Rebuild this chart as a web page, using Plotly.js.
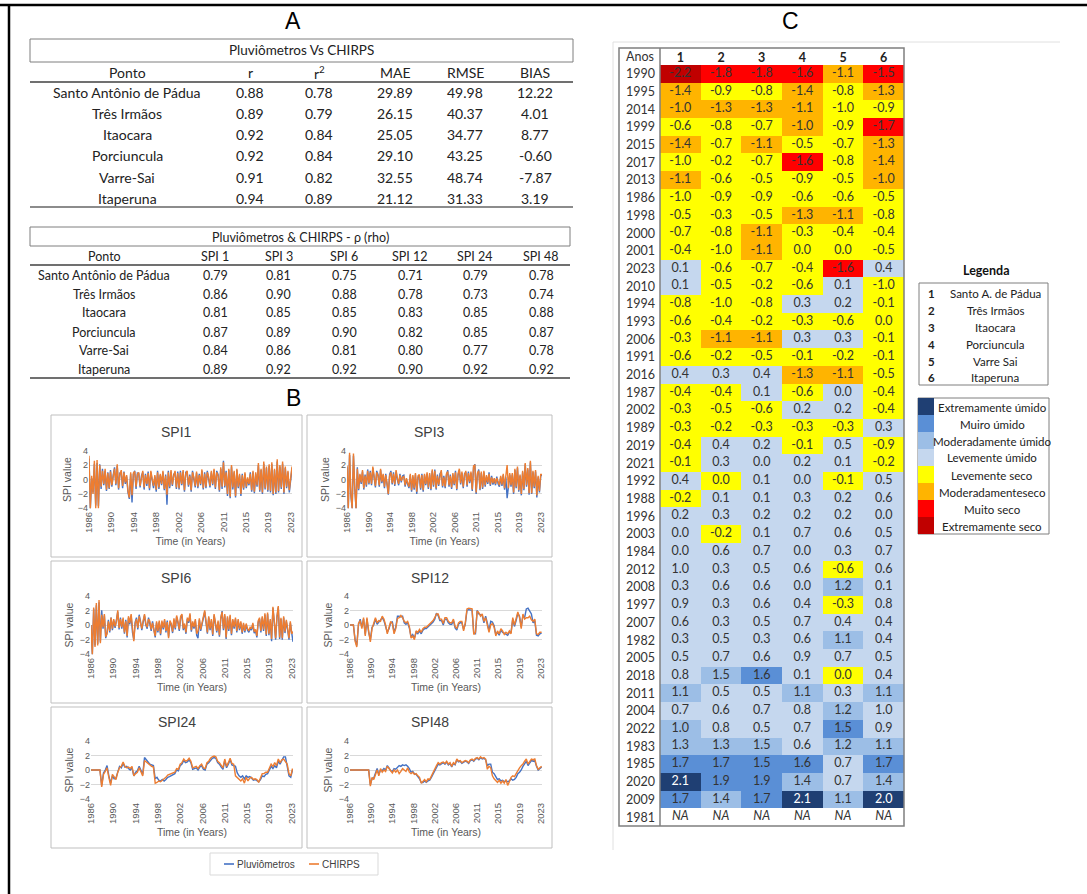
<!DOCTYPE html>
<html><head><meta charset="utf-8">
<script src="https://cdn.plot.ly/plotly-3.0.1.min.js"></script>
<style>html,body{margin:0;padding:0;background:#fff}#c{width:1087px;height:894px}</style>
</head><body><div id="c"></div>
<script>
// ---------------- DATA ----------------
const pontos = ['Santo Antônio de Pádua','Três Irmãos','Itaocara','Porciuncula','Varre-Sai','Itaperuna'];
const rVals    = [0.88,0.89,0.92,0.92,0.91,0.94];
const r2Vals   = [0.78,0.79,0.84,0.84,0.82,0.89];
const maeVals  = [29.89,26.15,25.05,29.10,32.55,21.12];
const rmseVals = [49.98,40.37,34.77,43.25,48.74,31.33];
const biasVals = [12.22,4.01,8.77,-0.60,-7.87,3.19];
const t1Headers = ['Ponto','r','r<sup>2</sup>','MAE','RMSE','BIAS'];

const t2Headers = ['Ponto','SPI 1','SPI 3','SPI 6','SPI 12','SPI 24','SPI 48'];
const rhoSpi1  = [0.79,0.86,0.81,0.87,0.84,0.89];
const rhoSpi3  = [0.81,0.90,0.85,0.89,0.86,0.92];
const rhoSpi6  = [0.75,0.88,0.85,0.90,0.81,0.92];
const rhoSpi12 = [0.71,0.78,0.83,0.82,0.80,0.90];
const rhoSpi24 = [0.79,0.73,0.85,0.85,0.77,0.92];
const rhoSpi48 = [0.78,0.74,0.88,0.87,0.78,0.92];

const tickMonths = [0,50,100,150,200,250,300,350,400,450];
const tickYears  = ['1986','1990','1994','1998','2002','2006','2011','2015','2019','2023'];

// SPI1 (quarterly, 1986 ->)
const spi1Chirps = [
3.3,-4.0,0.5,-2.0, 2.6,-4.0,2.7,-4.0, 2.0,-1.0,1.2,-0.6, 1.5,-1.4,0.9,-1.2, 1.1,-0.8,0.4,1.5,
-0.6,2.1,-1.2,0.7, 1.3,-0.9,1.0,-0.4, 0.6,-1.6,-2.5,1.0, -2.2,0.9,1.1,-1.0, 0.7,1.0,-0.9,0.4,
1.2,-1.1,0.6,-0.6, 0.9,-1.2,1.2,0.1, -0.9,0.6,-1.4,1.0, -1.1,0.8,-0.6,1.2, -1.3,0.5,-2.1,1.0,
-1.0,1.3,-0.7,0.5, 1.2,-1.1,0.9,-1.2, 1.0,-0.6,1.3,-1.5, 0.8,1.2,-0.8,0.5, -1.5,1.0,0.3,-0.9,
1.1,-1.0,0.6,-0.6, 1.4,-1.2,0.8,-1.0, 1.0,0.4,-0.9,1.2, -0.6,1.5,-1.1,1.0, 0.5,-1.5,1.7,-1.0,
2.4,-0.9,1.0,-2.0, 1.5,-2.4,2.0,-1.1, 1.2,-2.3,1.5,-1.0, 0.8,-2.0,0.6,-1.2, 1.0,-1.0,0.3,-0.6,
0.8,-1.5,1.2,-1.7, 1.0,-0.8,2.3,-1.5, 1.5,-1.8,2.5,-1.2, 1.8,-1.5,2.1,-1.6, 2.4,-2.0,1.5,-1.8,
2.8,-1.6,2.0,-1.1, 2.5,-1.8,1.8,-1.0, 1.2,-1.5,0.4,1.8];
const spi1Pluv = [
2.9,-4.0,0.2,-1.8, 2.2,-3.6,2.3,-3.7, 2.1,-1.3,1.5,-0.8, 1.2,-1.6,1.0,-1.3, 1.3,-1.0,0.6,1.7,
-0.8,1.9,-1.4,0.9, 1.0,-1.2,1.1,-0.6, 0.4,-1.8,-2.7,0.8, -3.2,0.7,1.2,-1.3, 0.9,0.8,-1.1,0.5,
1.0,-1.4,0.8,-0.9, 1.1,-1.5,1.0,0.0, -1.2,0.4,-1.7,1.2, -1.3,0.6,-0.8,1.0, -1.5,0.7,-3.5,1.2,
-1.2,1.1,-0.9,0.7, 1.0,-1.3,1.1,-1.4, 1.2,-0.8,1.1,-1.7, 1.0,1.0,-1.0,0.7, -1.7,1.2,0.1,-1.1,
0.9,-1.2,0.8,-0.8, 1.2,-1.4,1.0,-1.2, 1.2,0.2,-1.1,1.0, -0.8,1.3,-1.3,1.2, 0.7,-1.7,1.5,-1.3,
2.6,-1.1,1.2,-2.3, 1.3,-2.6,1.8,-1.4, 1.0,-2.5,1.3,-1.2, 0.6,-2.3,0.8,-1.4, 0.8,-1.2,0.1,-0.8,
1.0,-1.7,1.0,-1.9, 0.8,-1.0,2.0,-1.7, 1.3,-2.0,2.2,-1.4, 1.6,-1.7,1.9,-1.8, 2.1,-2.2,1.3,-2.0,
2.5,-1.8,1.8,-1.3, 2.2,-2.0,1.6,-1.2, 1.0,-1.8,0.2,1.6];

// SPI3 (quarterly)
const spi3Chirps = [
1.9,-4.0,3.7,-2.0, -4.0,3.6,-1.0,-4.0, 1.5,-1.3,0.8,-0.4, 1.3,-1.2,0.5,-0.8, 1.2,-0.5,1.0,-0.6,
1.8,0.2,-0.9,1.0, 0.5,-0.8,1.5,-0.3, 0.8,-1.0,0.6,-0.5, -2.0,0.5,1.0,-0.5, 0.8,-0.7,1.3,0.2,
-0.6,0.6,-0.2,0.3, 0.4,-0.8,0.2,-0.5, -1.0,0.8,-1.5,0.6, -1.2,0.9,-1.7,0.5, 0.7,-1.2,0.6,-1.5,
0.8,-0.6,1.0,-1.1, 0.9,-1.3,1.4,-0.8, 1.2,-1.2,0.5,-0.7, 0.6,1.3,-0.9,0.3, -1.0,0.8,1.1,-0.8,
0.5,-1.1,0.9,-0.6, 1.0,-1.3,0.8,1.5, -0.5,1.1,-1.0,0.6, 1.2,-0.8,0.9,-0.3, 1.1,-1.4,1.9,2.0,
-1.8,0.9,1.2,-1.3, 1.1,-1.1,1.2,-0.8, 0.6,-0.4,0.8,-0.7, 0.3,-0.5,0.2,-0.6, 0.2,-0.4,-0.8,0.5,
-0.7,0.8,-1.2,0.5, 2.0,-1.2,0.9,-0.8, 0.9,-1.8,1.5,-1.0, 1.8,-1.5,0.7,-2.0, 1.2,-1.3,2.3,-0.8,
1.6,-1.9,2.6,-1.9, 1.2,-1.0,1.3,-2.2, 0.5,-1.6,0.7,0.7];
const spi3Pluv = [
1.7,-4.0,3.4,-2.2, -4.0,3.3,-1.2,-4.0, 1.7,-1.5,0.6,-0.6, 1.1,-1.4,0.7,-1.0, 1.4,-0.7,1.2,-0.8,
1.6,0.0,-1.1,1.2, 0.7,-1.0,1.3,-0.5, 0.6,-1.2,0.8,-0.7, -2.1,0.7,1.2,-0.7, 1.0,-0.9,1.1,0.0,
-0.8,0.8,-0.4,0.5, 0.6,-1.0,0.0,-0.7, -1.2,0.6,-1.7,0.4, -1.4,0.7,-2.0,0.3, 0.5,-1.4,0.8,-1.7,
0.6,-0.8,0.8,-1.3, 0.7,-1.5,1.2,-1.0, 1.4,-1.4,0.7,-0.9, 0.8,1.1,-1.1,0.5, -1.2,0.6,1.3,-1.0,
0.7,-1.3,0.7,-0.8, 1.2,-1.5,0.6,1.3, -0.7,0.9,-1.2,0.8, 1.0,-1.0,1.1,-0.5, 0.9,-1.6,1.7,2.1,
-2.0,0.7,1.4,-1.5, 0.9,-1.3,1.0,-1.0, 0.4,-0.6,1.0,-0.9, 0.5,-0.7,0.0,-0.8, 0.4,-0.6,-1.0,0.3,
-0.9,0.6,-1.4,0.3, -2.6,-1.0,0.7,-1.0, 0.7,-2.0,1.3,-1.2, 1.6,-1.7,0.5,-2.2, 1.0,-1.5,2.1,-1.0,
1.4,-2.1,2.4,-2.0, 1.0,-1.2,1.1,-2.5, 0.3,-1.8,0.5,0.6];

// SPI6 (quarterly)
const spi6Chirps = [
0.0,-4.0,2.4,-3.0, 3.0,-2.8,3.4,-2.5, 1.4,-0.3,1.5,-1.6, -1.2,0.5,-0.8,1.0, -0.5,0.8,-0.2,0.5,
2.0,-0.4,0.8,-0.3, 1.0,-1.0,0.5,-1.5, 1.2,0.3,1.5,-0.8, -2.2,0.2,0.8,-0.4, 1.2,0.3,-0.5,0.6,
1.5,0.2,-0.3,0.8, 0.5,-0.6,0.3,-0.7, -1.5,0.5,-0.8,0.6, -1.2,0.6,-0.4,0.8, -0.8,0.4,-1.8,0.6,
0.2,-0.9,0.9,-0.4, 1.3,0.5,-0.6,1.2, 1.5,-0.5,0.2,-1.0, 1.0,0.5,1.6,-0.7, 0.5,-0.3,0.8,-1.2,
-0.8,0.9,-0.6,0.3, 1.0,2.0,0.5,-1.0, 1.2,-0.5,0.8,-1.3, 1.5,0.5,-0.8,0.6, -1.4,1.0,1.8,-0.5,
1.5,-1.7,1.2,-0.6, 1.4,-1.2,0.8,-0.3, 1.0,-0.8,0.8,-0.5, 0.5,-1.0,0.3,-0.8, 0.2,-0.5,-0.8,-0.3,
-0.5,0.3,-0.9,-0.6, -1.5,0.6,1.0,-0.8, 1.2,-0.6,1.6,-1.3, 1.7,-1.2,0.8,-1.9, 2.5,0.5,-1.8,1.2,
2.6,-1.7,1.0,-1.8, 1.2,-0.9,0.7,-0.5, -1.8,0.5,-1.2,-0.9];
const spi6Pluv = [
0.0,-4.0,2.2,-2.8, 2.7,-2.6,3.1,-2.3, 2.0,-0.5,1.3,-1.8, -1.0,0.7,-1.0,1.0, -0.7,0.6,-0.4,0.7,
1.8,-0.6,1.0,-0.5, 0.8,-1.2,0.7,-1.7, 1.0,0.1,1.3,-1.0, -2.0,0.4,1.0,-0.6, 1.4,0.5,-0.7,0.4,
1.3,0.0,-0.5,1.0, 0.3,-0.8,0.5,-0.9, -1.7,0.3,-1.0,0.4, -1.4,0.4,-0.6,0.6, -1.0,0.6,-1.6,0.4,
0.0,-1.1,0.7,-0.6, 1.1,0.3,-0.8,1.0, 1.3,-0.7,0.0,-1.2, 0.8,0.3,1.4,-0.9, 0.3,-0.5,0.6,-1.4,
-1.8,0.7,-0.8,0.1, 0.8,1.8,0.3,-1.2, 1.0,-0.7,0.6,-1.5, 1.3,0.3,-1.0,0.4, -1.6,0.8,1.9,-0.7,
1.3,-1.9,1.0,-0.8, 1.2,-1.4,0.6,-0.5, 0.8,-1.0,0.6,-0.7, 0.3,-1.2,0.1,-1.0, 0.0,-0.7,-1.0,-0.5,
-0.7,0.1,-1.1,-0.8, -1.7,0.4,0.8,-1.0, 1.0,-0.8,1.4,-1.5, 1.5,-1.4,0.6,-2.2, 2.3,0.3,-2.0,1.0,
2.4,-1.9,0.8,-2.0, 1.0,-1.1,0.5,-0.7, -2.0,0.3,-1.4,-2.3];

// SPI12 (every 4 months)
const spi12Chirps = [
0,0,0, -2.2,-3.0,0.2, 0.6,-0.5,1.0, -1.5,1.0,-0.8, -2.3,-0.5,0.2, 1.0,0.3,0.6, 0.5,1.2,0.8,
0.0,-1.2,-0.3, 0.5,0.2,-1.2, -0.5,0.9,1.0, 1.3,1.0,0.5, 0.3,0.5,-0.2, -1.8,-1.5,-2.0,
-0.8,-1.0,-0.6, -1.0,-0.5,-0.3, -0.3,-0.1,0.2, 0.3,0.6,1.0, 1.5,1.5,0.8, 0.8,0.2,1.0,
1.0,0.5,0.3, 0.3,0.8,-0.2, -0.5,0.3,0.5, 0.5,-0.8,0.3, 2.2,2.3,2.2, 2.2,-1.3,-1.0,
1.9,1.7,1.2, 1.5,0.5,1.0, 0.0,-1.0,0.0, 0.2,-0.3,-1.5, -0.8,-1.2,-0.5, -0.8,-1.3,-1.0,
-1.2,-0.8,-1.2, 1.0,0.0,0.8, 1.8,1.0,-0.5, 1.5,0.8,1.0, 1.0,1.2,0.7, 0.5,0.8,-1.2, -1.3,-1.0,-1.0];
const spi12Pluv = [
0,0,0, -2.0,-2.8,0.0, 0.8,-0.3,0.8, -1.3,0.8,-1.0, -2.0,-0.3,0.0, 0.8,0.1,0.4, 0.7,1.0,0.6,
-0.2,-1.0,-0.5, 0.3,0.4,-1.0, -0.3,1.2,1.2, 1.1,1.2,0.3, 0.1,0.3,-0.4, -1.6,-1.3,-1.8,
-1.0,-1.2,-0.8, -1.2,-0.7,-0.5, -0.5,-0.3,0.0, 0.1,0.4,0.8, 1.6,1.3,0.6, 0.6,0.0,0.8,
0.8,0.3,0.1, 0.1,0.6,-0.4, -0.7,0.1,0.3, 0.3,-0.6,0.1, 2.0,2.1,2.0, 2.0,-1.1,-1.2,
2.0,1.5,1.4, 1.3,0.3,1.2, 0.3,-0.8,0.5, 0.4,-0.1,-1.3, -1.0,-1.4,-0.7, -1.0,-1.1,-1.2,
-1.4,-1.0,-1.0, 0.8,-0.2,0.6, 1.6,1.2,-0.3, 1.3,1.0,2.2, 2.3,1.9,1.5, 0.3,0.6,-1.4, -1.5,-1.2,-1.1];

// SPI24 (every 4 months)
const spi24Chirps = [
0,0,0, 0,0,0, -2.3,-0.6,-0.2, 0.3,-1.0,-2.1, -0.6,-1.0,-1.3, -0.3,0.3,0.5, 1.1,0.5,0.3,
0.4,0.2,0.5, -0.8,-0.5,-0.3, 0.3,-0.2,-0.8, 1.3,1.1,0.8, 0.6,0.5,0.4, -1.8,-1.7,-1.5,
-1.6,-1.4,-1.3, -1.0,-0.7,-0.6, -0.5,-0.3,-0.3, 0.2,0.1,0.8, 1.0,1.5,1.2, 1.3,1.6,1.2,
0.3,0.4,0.5, 0.2,0.6,0.8, 0.3,0.2,1.0, 1.2,1.6,1.8, 1.9,1.8,1.2, 1.0,0.6,0.3,
1.5,0.5,1.0, 1.6,0.9,0.8, -0.8,-1.0,-1.3, -1.5,-1.2,-1.8, -1.0,-1.5,-1.1, -1.0,-1.3,-1.2,
-1.3,-1.7,-1.1, -0.5,-0.5,-0.3, -0.3,0.2,0.8, 0.5,1.0,0.6, 1.5,1.0,1.4, 1.5,1.2,0.8, -0.5,-0.8,0.2];
const spi24Pluv = [
0,0,0, 0,0,0, -2.1,-0.4,0.0, 0.6,-0.8,-1.8, -0.8,-1.2,-1.1, -0.1,0.5,0.3, 0.9,0.4,0.5,
0.2,0.0,0.3, -0.8,-0.3,-0.1, 0.5,0.0,-0.6, 1.7,1.4,1.0, 0.8,0.7,0.6, -1.2,-1.0,-1.4,
-1.5,-1.3,-1.5, -1.3,-1.0,-0.9, -0.8,-0.6,-0.5, 0.0,-0.1,0.6, 0.8,1.3,1.0, 1.1,1.4,1.0,
0.1,0.2,0.3, 0.0,0.4,0.6, 0.1,0.0,0.8, 1.0,1.4,1.6, 1.7,1.6,1.0, 0.8,0.4,0.1,
1.3,0.3,0.8, 1.4,0.7,0.6, 0.5,-0.4,-0.8, -1.0,-0.8,-1.2, -0.8,-1.0,-0.9, -1.1,-1.4,-1.3,
-1.5,-1.6,-1.3, -0.8,-0.9,-0.6, -0.5,0.0,0.5, 0.2,0.6,0.3, 1.2,0.8,1.2, 1.8,1.8,0.4, -0.8,-1.0,0.0];

// SPI48 (every 4 months)
const spi48Chirps = [
0,0,0, 0,0,0, 0,0,0, 0,0,0, -2.2,-1.0,-1.3, -0.5,0.0,-0.8, 0.2,-0.3,0.0,
-0.2,0.5,0.2, -0.2,-0.4,0.0, -0.3,0.0,-0.5, -0.2,0.2,0.0, -0.2,0.3,-0.3, -0.5,-0.3,-0.6,
-0.5,-0.8,-1.0, -1.8,-1.5,-1.3, -1.6,-1.2,-1.3, -0.8,-0.3,0.3, 0.6,1.0,0.8, 1.0,1.1,0.9,
1.2,0.8,1.0, 0.5,1.0,0.8, 1.5,1.2,1.3, 1.0,1.1,1.3, 1.2,1.0,1.4, 1.5,1.3,1.6,
1.7,1.5,1.8, 1.6,1.7,1.5, 0.1,0.5,0.3, -0.8,-1.2,-1.5, -1.7,-1.4,-1.8, -1.5,-1.8,-1.3,
-2.1,-1.6,-1.0, -0.8,-0.9,-0.5, 0.0,0.3,0.6, 0.8,1.2,1.5, 0.8,1.2,1.5, 1.4,1.5,0.6, 0.1,0.3,0.5];
const spi48Pluv = [
0,0,0, 0,0,0, 0,0,0, 0,0,0, -2.0,-1.2,-1.1, -0.3,0.2,-0.6, 0.0,-0.1,0.2,
0.0,0.6,0.3, -0.1,-0.2,0.2, 0.1,0.4,0.6, 0.5,0.7,0.6, 0.7,0.5,0.2, -0.3,-0.2,-0.5,
-0.6,-0.9,-1.2, -1.7,-1.7,-1.5, -1.7,-1.5,-1.4, -1.0,-0.6,0.0, 0.4,0.8,0.7, 0.9,1.0,0.8,
1.1,0.7,0.9, 0.4,0.9,0.7, 1.4,1.1,1.2, 0.9,1.0,1.2, 1.1,0.9,1.3, 1.4,1.2,1.5,
1.6,1.4,1.7, 1.5,1.6,1.4, 0.6,0.8,0.8, -0.3,-0.5,-1.0, -1.3,-1.2,-1.5, -1.4,-1.6,-1.5,
-1.6,-1.5,-1.2, -1.4,-1.3,-1.0, -0.5,-0.3,0.0, 0.5,0.8,1.2, 0.6,1.0,1.3, 1.2,1.3,0.5, 0.0,0.2,0.4];

// Panel C heat table
const anos = ['1990','1995','2014','1999','2015','2017','2013','1986','1998','2000','2001','2023','2010','1994',
 '1993','2006','1991','2016','1987','2002','1989','2019','2021','1992','1988','1996','2003','1984','2012','2008',
 '1997','2007','1982','2005','2018','2011','2004','2022','1983','1985','2020','2009','1981'];
const pontosNum = ['1','2','3','4','5','6'];
const spiAnual = [
[-2.2,-1.8,-1.8,-1.6,-1.1,-1.5],[-1.4,-0.9,-0.8,-1.4,-0.8,-1.3],[-1.0,-1.3,-1.3,-1.1,-1.0,-0.9],
[-0.6,-0.8,-0.7,-1.0,-0.9,-1.7],[-1.4,-0.7,-1.1,-0.5,-0.7,-1.3],[-1.0,-0.2,-0.7,-1.6,-0.8,-1.4],
[-1.1,-0.6,-0.5,-0.9,-0.5,-1.0],[-1.0,-0.9,-0.9,-0.6,-0.6,-0.5],[-0.5,-0.3,-0.5,-1.3,-1.1,-0.8],
[-0.7,-0.8,-1.1,-0.3,-0.4,-0.4],[-0.4,-1.0,-1.1,0.0,0.0,-0.5],[0.1,-0.6,-0.7,-0.4,-1.6,0.4],
[0.1,-0.5,-0.2,-0.6,0.1,-1.0],[-0.8,-1.0,-0.8,0.3,0.2,-0.1],[-0.6,-0.4,-0.2,-0.3,-0.6,0.0],
[-0.3,-1.1,-1.1,0.3,0.3,-0.1],[-0.6,-0.2,-0.5,-0.1,-0.2,-0.1],[0.4,0.3,0.4,-1.3,-1.1,-0.5],
[-0.4,-0.4,0.1,-0.6,0.0,-0.4],[-0.3,-0.5,-0.6,0.2,0.2,-0.4],[-0.3,-0.2,-0.3,-0.3,-0.3,0.3],
[-0.4,0.4,0.2,-0.1,0.5,-0.9],[-0.1,0.3,0.0,0.2,0.1,-0.2],[0.4,0.0,0.1,0.0,-0.1,0.5],
[-0.2,0.1,0.1,0.3,0.2,0.6],[0.2,0.3,0.2,0.2,0.2,0.0],[0.0,-0.2,0.1,0.7,0.6,0.5],
[0.0,0.6,0.7,0.0,0.3,0.7],[1.0,0.3,0.5,0.6,-0.6,0.6],[0.3,0.6,0.6,0.0,1.2,0.1],
[0.9,0.3,0.6,0.4,-0.3,0.8],[0.6,0.3,0.5,0.7,0.4,0.4],[0.3,0.5,0.3,0.6,1.1,0.4],
[0.5,0.7,0.6,0.9,0.7,0.5],[0.8,1.5,1.6,0.1,0.0,0.4],[1.1,0.5,0.5,1.1,0.3,1.1],
[0.7,0.6,0.7,0.8,1.2,1.0],[1.0,0.8,0.5,0.7,1.5,0.9],[1.3,1.3,1.5,0.6,1.2,1.1],
[1.7,1.7,1.5,1.6,0.7,1.7],[2.1,1.9,1.9,1.4,0.7,1.4],[1.7,1.4,1.7,2.1,1.1,2.0],
[null,null,null,null,null,null]];
// class: 0 NA, 1 ext seco, 2 muito seco, 3 mod seco, 4 lev seco, 5 lev umido, 6 mod umido, 7 muito umido, 8 ext umido
const classe = [
[1,2,2,2,3,2],[3,4,4,3,4,3],[3,3,3,3,4,4],[4,4,4,3,4,2],[3,4,3,4,4,3],[4,4,4,2,4,3],
[3,4,4,4,4,3],[4,4,4,4,4,4],[4,4,4,3,3,4],[4,4,3,4,4,4],[4,4,3,4,4,4],[5,4,4,4,2,5],
[5,4,4,4,5,4],[4,4,4,5,5,4],[4,4,4,4,4,4],[4,3,3,5,5,4],[4,4,4,4,4,4],[5,5,5,3,3,4],
[4,4,5,4,5,4],[4,4,4,5,5,4],[4,4,4,4,4,5],[4,5,5,4,5,4],[4,5,5,5,5,4],[5,4,5,5,4,5],
[4,5,5,5,5,5],[5,5,5,5,5,5],[5,4,5,5,5,5],[5,5,5,5,5,5],[5,5,5,5,4,5],[5,5,5,5,6,5],
[5,5,5,5,4,5],[5,5,5,5,5,5],[5,5,5,5,6,5],[5,5,5,5,5,5],[5,6,7,5,4,5],[6,5,5,6,5,6],
[5,5,5,5,6,5],[6,5,5,5,7,5],[6,6,6,5,6,6],[7,7,7,7,5,7],[8,7,7,6,5,6],[7,6,7,8,6,8],
[0,0,0,0,0,0]];
const legendaPontos = ['Santo A. de Pádua','Três Irmãos','Itaocara','Porciuncula','Varre Sai','Itaperuna'];
const legendaClasses = ['Extremamente úmido','Muiro úmido','Moderadamente úmido','Levemente úmido',
  'Levemente seco','Moderadamenteseco','Muito seco','Extremamente seco'];
const legendaClasseIdx = [8,7,6,5,4,3,2,1];

// ---------------- STYLE / LAYOUT ----------------
const W = 1087, H = 894;
const px = v => v / W, py = v => 1 - v / H;
const palette = ['#ffffff','#C00000','#FF0000','#FFB400','#FFFF00','#C5D7EE','#9CBEE6','#5A8FD6','#1F3F73'];
const FT = 'Lato, "Noto Sans", sans-serif';
const FA = '"Liberation Sans", Arial, sans-serif';
const BLUE = '#4472C4', ORANGE = '#ED7D31';

const ann = [], shapes = [];
function txt(x, y, t, size, color, family, xanchor) {
  ann.push({xref:'paper', yref:'paper', x:px(x), y:py(y), text:t, showarrow:false,
    xanchor:xanchor||'center', yanchor:'middle', font:{family:family||FT, size:size, color:color||'#222'}});
}
function line(x0,y0,x1,y1,color,width){
  shapes.push({type:'line', xref:'paper', yref:'paper', x0:px(x0), y0:py(y0), x1:px(x1), y1:py(y1),
    line:{color:color, width:width}});
}
function rect(x0,y0,x1,y1,color,width,fill){
  shapes.push({type:'rect', xref:'paper', yref:'paper', x0:px(x0), y0:py(y0), x1:px(x1), y1:py(y1),
    line:{color:color, width:width}, fillcolor:fill||'rgba(0,0,0,0)'});
}

// figure frame
line(0,5,W,5,'#000',2.5);
line(9,5,9,H,'#000',2.5);

// panel letters
txt(293,21,'A',23,'#000',FA);
txt(293,398,'B',23,'#000',FA);
txt(790,21,'C',23,'#000',FA);

// Table 1
const t1X = [127,250,319,395,465,535];
const t1RowY = [92,113,134,156,177,198];
rect(30,39,573,62,'#7f7f7f',1);
txt(301,50,'Pluviômetros Vs CHIRPS',13.5,'#222');
t1Headers.forEach((h,i)=>txt(t1X[i],72,h,14,'#222'));
line(30,82,573,82,'#404040',1.3);
const t1Cols = [rVals,r2Vals,maeVals,rmseVals,biasVals];
pontos.forEach((p,r)=>{
  txt(t1X[0],t1RowY[r],p,14,'#222');
  t1Cols.forEach((col,c)=>txt(t1X[c+1],t1RowY[r],col[r].toFixed(2),14,'#222'));
});
line(30,207,573,207,'#8c8c8c',2);

// Table 2
const t2X = [104,215,279,344,410,475,541];
const t2RowY = [275,294,313,332,351,369];
rect(30,227,570,246,'#7f7f7f',1);
txt(300,237,'Pluviômetros &amp; CHIRPS - ρ (rho)',12.5,'#222');
t2Headers.forEach((h,i)=>txt(t2X[i],256,h,12.5,'#222'));
line(30,265,570,265,'#404040',1.3);
const t2Cols = [rhoSpi1,rhoSpi3,rhoSpi6,rhoSpi12,rhoSpi24,rhoSpi48];
pontos.forEach((p,r)=>{
  txt(t2X[0],t2RowY[r],p,12.5,'#222');
  t2Cols.forEach((col,c)=>txt(t2X[c+1],t2RowY[r],col[r].toFixed(2),12.5,'#222'));
});
line(30,378,570,378,'#404040',1.3);

// Panel B charts
const panels = [
  {name:'SPI1',  pluv:spi1Pluv,  chirps:spi1Chirps,  step:3},
  {name:'SPI3',  pluv:spi3Pluv,  chirps:spi3Chirps,  step:3},
  {name:'SPI6',  pluv:spi6Pluv,  chirps:spi6Chirps,  step:3},
  {name:'SPI12', pluv:spi12Pluv, chirps:spi12Chirps, step:4},
  {name:'SPI24', pluv:spi24Pluv, chirps:spi24Chirps, step:4},
  {name:'SPI48', pluv:spi48Pluv, chirps:spi48Chirps, step:4}
];
const geo = [
  {plot:[89,292,450,509], box:[51,302,415,557], ty:432},
  {plot:[347,542,450,509], box:[307,552,415,557], ty:432},
  {plot:[91,293,595,655], box:[51,302,561,703], ty:578},
  {plot:[350,542,595,655], box:[307,552,561,703], ty:578},
  {plot:[91,293,740,800], box:[51,302,707,848], ty:722},
  {plot:[350,542,740,800], box:[307,552,707,848], ty:722}
];

const data = [];
const layout = {
  width:W, height:H, margin:{l:0,r:0,t:0,b:0}, paper_bgcolor:'#fff', plot_bgcolor:'rgba(0,0,0,0)',
  showlegend:false, annotations:ann, shapes:shapes
};

panels.forEach((p,i)=>{
  const g = geo[i], k = i+1;
  const xa = 'x'+k, ya = 'y'+k;
  const xs = p.chirps.map((_,j)=>j*p.step);
  data.push({type:'scatter', mode:'lines', x:xs, y:p.pluv, xaxis:xa, yaxis:ya,
    line:{color:BLUE, width:1.4}, hoverinfo:'skip'});
  data.push({type:'scatter', mode:'lines', x:xs, y:p.chirps, xaxis:xa, yaxis:ya,
    line:{color:ORANGE, width:1.4}, hoverinfo:'skip'});
  layout['xaxis'+k] = {domain:[px(g.plot[0]),px(g.plot[1])], anchor:ya, range:[0,453],
    tickmode:'array', tickvals:tickMonths, ticktext:tickYears, tickangle:-90,
    tickfont:{family:FA,size:9.5,color:'#595959'}, showgrid:false, zeroline:false, showline:false, ticks:'',
    title:{text:'Time (in Years)', font:{family:FA,size:10.5,color:'#595959'}, standoff:5}, fixedrange:true};
  layout['yaxis'+k] = {domain:[py(g.plot[3]),py(g.plot[2])], anchor:xa, range:[-4.1,4.1],
    tickmode:'array', tickvals:[-4,-2,0,2,4], tickfont:{family:FA,size:9,color:'#595959'},
    showgrid:true, gridcolor:'#d9d9d9', gridwidth:1, zeroline:false, showline:false, ticks:'',
    title:{text:'SPI value', font:{family:FA,size:10.5,color:'#595959'}, standoff:4}, fixedrange:true};
  rect(g.box[0],g.box[2],g.box[1],g.box[3],'#bfbfbf',1);
  txt((g.box[0]+g.box[1])/2, g.ty, p.name, 14, '#404040', FA);
});

// Panel B legend
rect(210,853,378,875,'#d9d9d9',1);
line(224,864,234,864,BLUE,1.6);
txt(235,864,'Pluviômetros',10,'#404040',FA,'left');
line(309,864,319,864,ORANGE,1.6);
txt(320,864,'CHIRPS',10,'#404040',FA,'left');

// Panel C frame
line(613,42,1060,42,'#e0e0e0',1);
line(613,42,613,850,'#e0e0e0',1);

// Heatmap
const cs = [];
palette.forEach((c,k)=>{ cs.push([k/palette.length,c]); cs.push([(k+1)/palette.length,c]); });
data.push({type:'heatmap', x:pontosNum, y:anos, z:classe, xaxis:'x7', yaxis:'y7',
  colorscale:cs, zmin:-0.5, zmax:palette.length-0.5, showscale:false, hoverinfo:'skip', xgap:0, ygap:0});
const tx=[], ty=[], tt=[], tc=[];
anos.forEach((a,r)=>pontosNum.forEach((p,c)=>{
  tx.push(p); ty.push(a);
  const v = spiAnual[r][c];
  tt.push(v===null ? '<i>NA</i>' : v.toFixed(1));
  tc.push(classe[r][c]===8 ? '#ffffff' : '#333333');
}));
data.push({type:'scatter', mode:'text', x:tx, y:ty, text:tt, xaxis:'x7', yaxis:'y7',
  textfont:{family:FT, size:12.5, color:tc}, hoverinfo:'skip', cliponaxis:false});
layout.xaxis7 = {domain:[px(660),px(904)], anchor:'y7', type:'category', side:'top',
  range:[-0.5, pontosNum.length-0.5], autorange:false,
  tickmode:'array', tickvals:pontosNum, ticktext:pontosNum.map(s=>'<b>'+s+'</b>'),
  tickfont:{family:FT,size:12.5,color:'#222'}, showgrid:false, zeroline:false, showline:false, ticks:'', fixedrange:true};
layout.yaxis7 = {domain:[py(826),py(65)], anchor:'x7', type:'category', categoryorder:'array', categoryarray:anos,
  range:[anos.length-0.5, -0.5], autorange:false,
  tickfont:{family:FT,size:12.5,color:'#333'}, showgrid:false, zeroline:false,
  showline:false, ticks:'', ticklabelstandoff:4, fixedrange:true};
rect(619,48,904,826,'#7f7f7f',1.5);
line(660,48,660,826,'#7f7f7f',1.5);
txt(640,57,'Anos',12.5,'#333');

// Legend panel C
txt(987,270,'<b>Legenda</b>',12.5,'#111');
rect(919,283,1048,385,'#7f7f7f',1);
legendaPontos.forEach((n,i)=>{
  txt(931,293+17*i,'<b>'+pontosNum[i]+'</b>',11.5,'#222');
  txt(995,293+17*i,n,11.5,'#222');
});
rect(918,398,1049,534,'#7f7f7f',1);
legendaClasses.forEach((n,i)=>{
  rect(918,398+17*i,934,398+17*(i+1),'rgba(0,0,0,0)',0,palette[legendaClasseIdx[i]]);
  txt(992,407+17*i,n,11.5,'#222');
});

Plotly.newPlot('c', data, layout, {staticPlot:true, displayModeBar:false});
</script></body></html>
